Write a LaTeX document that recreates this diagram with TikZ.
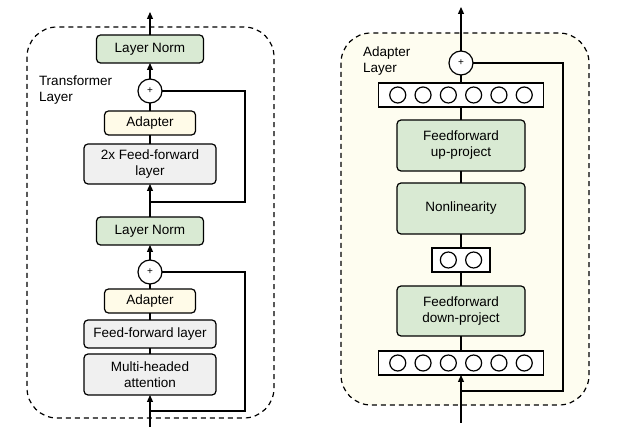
\documentclass[tikz,border=0pt]{standalone}
\usepackage{fontspec}
\setmainfont{Liberation Sans}
\usetikzlibrary{positioning}
\usetikzlibrary{arrows.meta}

\definecolor{normgreen}{HTML}{D9EAD3}
\definecolor{adapteryellow}{HTML}{FFFBE8}
\definecolor{layergray}{HTML}{F0F0F0}
\definecolor{panelyellow}{HTML}{FEFDF0}

\begin{document}
\begin{tikzpicture}[x=1pt, y=1pt, line width=1.2pt, outer sep=0,
    >={Triangle[length=7pt,width=6pt]},
    font=\fontsize{13.5}{16}\selectfont,
    block/.style={draw, rectangle, rounded corners=4pt, align=center, inner sep=0},
    norm/.style={block, fill=normgreen, minimum width=107pt, minimum height=28pt},
    adapterbox/.style={block, fill=adapteryellow, minimum width=91pt, minimum height=24pt},
    sublayer/.style={block, fill=layergray, minimum width=132pt},
    proj/.style={block, fill=normgreen, minimum width=128pt, minimum height=51pt},
    sum/.style={draw, circle, fill=white, minimum size=24pt, inner sep=0, font=\fontsize{10}{12}\selectfont},
    vec/.style={draw, rectangle, fill=white, minimum height=24pt, inner sep=0},
    frame/.style={dash pattern=on 5pt off 4pt, rounded corners=30pt},
    caption/.style={anchor=west, align=left, inner sep=0}]
    \useasboundingbox (0,0) rectangle (619,-435);

    % panels
    \draw [frame] (27,-27) rectangle (274,-418);
    \draw [frame, fill=panelyellow] (341,-33) rectangle (589,-405);
    \node [caption] (tlabel) at (39,-90) {Transformer\\Layer};
    \node [caption] (alabel) at (363,-61) {Adapter\\Layer};

    % transformer layer
    \node [norm] (ln2) at (150,-49) {Layer Norm};
    \node [sum, below = 16pt of ln2] (add2) {+};
    \node [adapterbox, below = 8pt of add2] (ad2) {Adapter};
    \node [sublayer, minimum height=40pt, below = 9pt of ad2] (ff2) {2x Feed-forward\\layer};
    \node [norm, below = 33pt of ff2] (ln1) {Layer Norm};
    \node [sum, below = 15pt of ln1] (add1) {+};
    \node [adapterbox, below = 5pt of add1] (ad1) {Adapter};
    \node [sublayer, minimum height=28pt, below = 7pt of ad1] (ff1) {Feed-forward layer};
    \node [sublayer, minimum height=41pt, below = 6pt of ff1] (mha) {Multi-headed\\attention};
    \coordinate (in1) at (150,-427);
    \coordinate (out1) at (150,-12);
    \coordinate (skip1) at (245,-411);
    \coordinate (skip2) at (245,-202);

    \draw[->] (in1) -- (mha);
    \draw (mha) -- (ff1);
    \draw (ff1) -- (ad1);
    \draw (ad1) -- (add1);
    \draw[->] (add1) -- (ln1);
    \draw[->] (ln1) -- (ff2);
    \draw (ff2) -- (ad2);
    \draw (ad2) -- (add2);
    \draw[->] (add2) -- (ln2);
    \draw[->] (ln2) -- (out1);
    \draw (add1.east) -| (skip1) -- (in1 |- skip1);
    \draw (add2.east) -| (skip2) -- (ln1 |- skip2);

    % adapter layer
    \node [sum] (add3) at (461,-63) {+};
    \node [vec, minimum width=165pt, below = 8pt of add3] (vout) {};
    \node [proj, below = 13pt of vout] (upproj) {Feedforward\\up-project};
    \node [proj, below = 12pt of upproj] (nonlin) {Nonlinearity};
    \node [vec, minimum width=58pt, below = 14pt of nonlin] (vmid) {};
    \node [proj, minimum height=50pt, below = 14pt of vmid] (downproj) {Feedforward\\down-project};
    \node [vec, minimum width=165pt, below = 15pt of downproj] (vin) {};
    \coordinate (in2) at (461,-423);
    \coordinate (out2) at (461,-7);
    \coordinate (skip3) at (563,-391);

    \foreach \i in {-2.5,-1.5,...,2.5} {
        \draw ([xshift=\i*25.3pt]vout.center) circle (8pt);
        \draw ([xshift=\i*25.3pt]vin.center) circle (8pt);
    }
    \foreach \i in {-0.5,0.5}
        \draw ([xshift=\i*25.3pt]vmid.center) circle (8pt);

    \draw[->] (in2) -- (vin);
    \draw (vin) -- (downproj);
    \draw (downproj) -- (vmid);
    \draw (vmid) -- (nonlin);
    \draw (nonlin) -- (upproj);
    \draw (upproj) -- (vout);
    \draw (vout) -- (add3);
    \draw[->] (add3) -- (out2);
    \draw (add3.east) -| (skip3) -- (in2 |- skip3);
\end{tikzpicture}
\end{document}
